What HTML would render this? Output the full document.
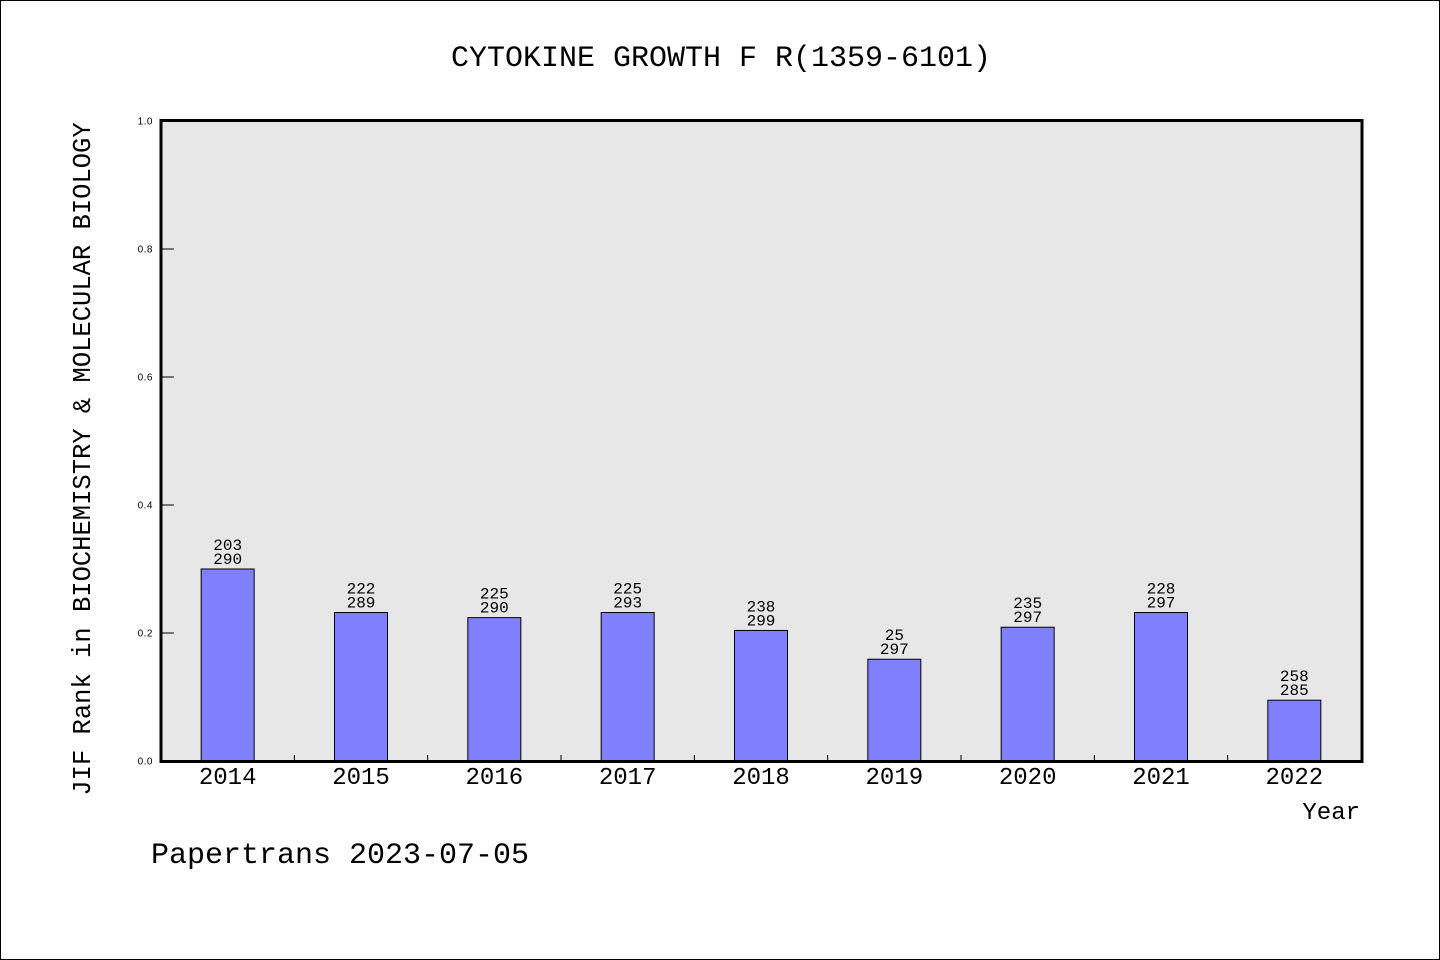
<!DOCTYPE html>
<html><head><meta charset="utf-8"><style>
html,body{margin:0;padding:0;background:#fff;}
#wrap{width:1438px;height:958px;border:1px solid #000;position:relative;overflow:hidden;}
svg text{font-family:"Liberation Mono","WenQuanYi Zen Hei",monospace;fill:#000;}
</style></head><body>
<div id="wrap">
<svg id="chart" width="1440" height="960">
<text x="720" y="65" font-size="30" text-anchor="middle">CYTOKINE GROWTH F R(1359-6101)</text>
<rect x="160" y="119.5" width="1201" height="641" fill="#e7e7e7"/>
<g id="bars"></g>
<rect x="160" y="119.5" width="1201" height="641" fill="none" stroke="#000" stroke-width="3"/>
<text transform="translate(89,458) rotate(-90)" font-size="25.5" text-anchor="middle">JIF Rank in BIOCHEMISTRY &amp; MOLECULAR BIOLOGY</text>
<text x="1359" y="818" font-size="24" text-anchor="end">Year</text>
<text x="150" y="862" font-size="30">Papertrans 2023-07-05</text>
</svg></div>
<script>
const years=["2014","2015","2016","2017","2018","2019","2020","2021","2022"];
const values=[0.300,0.232,0.224,0.232,0.204,0.159,0.209,0.232,0.095];
const ranks=["203","222","225","225","238","25","235","228","258"];
const totals=["290","289","290","293","299","297","297","297","285"];
const yTicks=[0,0.2,0.4,0.6,0.8,1.0];
const yTickLabels=["0.0","0.2","0.4","0.6","0.8","1.0"];
const NS="http://www.w3.org/2000/svg";
const X0=160,X1=1360,Y0=760,Y1=120;
const band=(X1-X0)/years.length;
const xc=i=>X0+band*(i+0.5);
const ys=v=>Y0-(Y0-Y1)*v;
const g=document.getElementById('bars');
function mk(t,a){const e=document.createElementNS(NS,t);for(const k in a)e.setAttribute(k,a[k]);g.appendChild(e);return e;}
yTicks.forEach((v,i)=>{
 const l=mk('line',{x1:X0,x2:X0+13,y1:ys(v),y2:ys(v),stroke:'#000','stroke-width':1});
 
 
 const t=mk('text',{x:152,y:ys(v)+3.5,'font-size':10,'text-anchor':'end','style':'font-family:"Liberation Sans",sans-serif;letter-spacing:0.5px'});
 t.textContent=yTickLabels[i];
 
 
});
years.forEach((y,i)=>{
 const v=values[i];
 const c=xc(i);
 const r=mk('rect',{x:c-26.5,y:ys(v),width:53,height:Y0-ys(v),fill:'#8080ff',stroke:'#000','stroke-width':1});
 
 
 const t1=mk('text',{x:c,y:ys(v)-19,'font-size':16,'text-anchor':'middle'});
 t1.textContent=ranks[i];
 
 
 const t2=mk('text',{x:c,y:ys(v)-5,'font-size':16,'text-anchor':'middle'});
 t2.textContent=totals[i];
 
 
 const xl=mk('text',{x:c,y:783,'font-size':24,'text-anchor':'middle'});
 xl.textContent=y;
 
 
 if(i>0){const tk=mk('line',{x1:X0+band*i,x2:X0+band*i,y1:Y0,y2:Y0-6,stroke:'#000','stroke-width':1});
 
 }
});
</script>
</body></html>
